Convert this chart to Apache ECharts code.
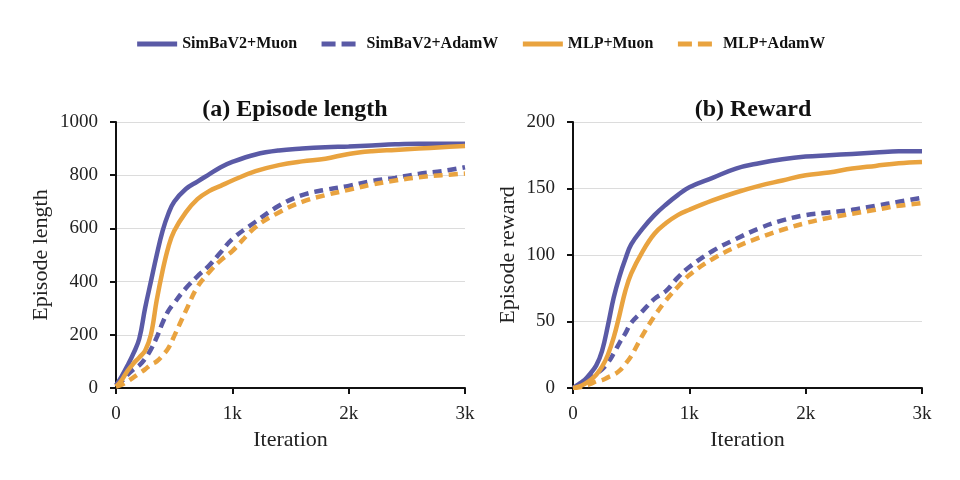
<!DOCTYPE html>
<html>
<head>
<meta charset="utf-8">
<script src="https://cdn.jsdelivr.net/npm/echarts@6/dist/echarts.min.js"></script>
<style>
  html, body { margin: 0; padding: 0; background: #fff; }
  #chart { width: 960px; height: 480px; }
</style>
</head>
<body>
<div id="chart"></div>
<script>
const iterations = [0, 50, 100, 150, 200, 250, 300, 350, 400, 450, 500, 600, 700, 800, 900, 1000,
  1200, 1400, 1600, 1800, 2000, 2200, 2400, 2600, 2800, 3000];

// (a) Episode length
const lenSimbaMuon = [10, 45, 85, 130, 185, 300, 400, 500, 590, 655, 700, 748, 776, 803, 830, 850,
  878, 893, 900, 905, 908, 912, 916, 918, 918, 918];
const lenSimbaAdamW = [10, 25, 50, 70, 85, 110, 145, 190, 245, 290, 320, 375, 420, 460, 510, 560,
  625, 685, 725, 745, 760, 778, 790, 805, 815, 830];
const lenMlpMuon = [5, 30, 65, 92, 115, 140, 200, 330, 440, 530, 590, 660, 710, 740, 760, 780,
  815, 838, 852, 862, 880, 890, 895, 900, 905, 910];
const lenMlpAdamW = [5, 12, 25, 40, 55, 70, 88, 100, 122, 150, 195, 290, 380, 435, 480, 515,
  605, 660, 700, 725, 745, 765, 780, 792, 800, 806];

// (b) Reward
const rewSimbaMuon = [0, 3, 6, 11, 17, 28, 47, 68, 84, 97, 108, 120, 130, 138, 145, 151,
  158, 165, 169, 172, 174, 175, 176, 177, 178, 178];
const rewSimbaAdamW = [0, 2, 5, 8, 11, 14, 19, 26, 34, 41, 49, 58, 67, 73, 83, 91,
  103, 112, 120, 126, 130, 132, 134, 137, 140, 143];
const rewMlpMuon = [0, 1, 3, 6, 10, 16, 25, 38, 55, 73, 86, 103, 116, 124, 130, 134,
  141, 147, 152, 156, 160, 162, 165, 167, 169, 170];
const rewMlpAdamW = [0, 0.5, 1.5, 3, 5, 6, 8, 10, 13, 18, 24, 40, 54, 66, 76, 85,
  97, 106, 113, 119, 124, 128, 131, 134, 137, 139];

const xTicks = [0, 1000, 2000, 3000];
const lenTicks = [0, 200, 400, 600, 800, 1000];
const rewTicks = [0, 50, 100, 150, 200];

const BLUE = "#5a5aa6";
const ORANGE = "#e9a33f";
const FONT = "Liberation Serif, Times New Roman, serif";
const DASH = [9, 6];

const zip = (ys) => iterations.map((x, i) => [x, ys[i]]);

function xAxis(gridIndex) {
  return {
    type: "value",
    gridIndex,
    min: xTicks[0],
    max: xTicks[xTicks.length - 1],
    interval: 1000,
    name: "Iteration",
    nameLocation: "middle",
    nameGap: 41,
    nameTextStyle: { fontFamily: FONT, fontSize: 22, color: "#222" },
    axisLine: { lineStyle: { color: "#111", width: 2 } },
    axisTick: { show: true, length: 6, lineStyle: { color: "#111", width: 2 } },
    axisLabel: {
      fontFamily: FONT, fontSize: 19, color: "#222", margin: 17,
      formatter: (v) => (v === 0 ? "0" : v / 1000 + "k"),
    },
    splitLine: { show: false },
  };
}

function yAxis(gridIndex, ticks, name) {
  return {
    type: "value",
    gridIndex,
    min: ticks[0],
    max: ticks[ticks.length - 1],
    interval: ticks[1] - ticks[0],
    name,
    nameLocation: "middle",
    nameGap: gridIndex === 0 ? 64 : 54,
    nameTextStyle: { fontFamily: FONT, fontSize: 22, color: "#222" },
    axisLine: { show: true, lineStyle: { color: "#111", width: 2 } },
    axisTick: { show: true, length: 6, lineStyle: { color: "#111", width: 2 } },
    axisLabel: { fontFamily: FONT, fontSize: 19, color: "#222", margin: 18, formatter: (v) => String(v) },
    splitLine: { show: true, lineStyle: { color: "#dcdcdc", width: 1 } },
  };
}

function line(name, gridIndex, ys, color, dashed) {
  return {
    name,
    type: "line",
    xAxisIndex: gridIndex,
    yAxisIndex: gridIndex,
    data: zip(ys),
    smooth: 0.4,
    symbol: "none",
    lineStyle: { color, width: 4.5, type: dashed ? DASH : "solid" },
    itemStyle: { color },
    z: dashed ? 3 : 4,
  };
}

const chart = echarts.init(document.getElementById("chart"));

chart.setOption({
  animation: false,
  backgroundColor: "#fff",
  title: [
    {
      text: "(a) Episode length", left: 290, top: 93, textAlign: "center",
      textStyle: { fontFamily: FONT, fontSize: 24, fontWeight: "bold", color: "#111" },
    },
    {
      text: "(b) Reward", left: 748, top: 93, textAlign: "center",
      textStyle: { fontFamily: FONT, fontSize: 24, fontWeight: "bold", color: "#111" },
    },
  ],
  legend: {
    top: 31,
    left: "center",
    itemWidth: 40,
    itemHeight: 10,
    itemGap: 22,
    itemStyle: { opacity: 0 },
    lineStyle: { width: 5 },
    textStyle: { fontFamily: FONT, fontSize: 16, fontWeight: "bold", color: "#111" },
    data: [
      { name: "SimBaV2+Muon" },
      { name: "SimBaV2+AdamW", lineStyle: { type: [14, 6, 14, 100] } },
      { name: "MLP+Muon" },
      { name: "MLP+AdamW", lineStyle: { type: [14, 6, 14, 100] } },
    ],
  },
  grid: [
    { left: 116, right: 495, top: 122, bottom: 92 },
    { left: 573, right: 38, top: 122, bottom: 92 },
  ],
  xAxis: [xAxis(0), xAxis(1)],
  yAxis: [yAxis(0, lenTicks, "Episode length"), yAxis(1, rewTicks, "Episode reward")],
  series: [
    line("SimBaV2+Muon", 0, lenSimbaMuon, BLUE, false),
    line("SimBaV2+AdamW", 0, lenSimbaAdamW, BLUE, true),
    line("MLP+Muon", 0, lenMlpMuon, ORANGE, false),
    line("MLP+AdamW", 0, lenMlpAdamW, ORANGE, true),
    line("SimBaV2+Muon", 1, rewSimbaMuon, BLUE, false),
    line("SimBaV2+AdamW", 1, rewSimbaAdamW, BLUE, true),
    line("MLP+Muon", 1, rewMlpMuon, ORANGE, false),
    line("MLP+AdamW", 1, rewMlpAdamW, ORANGE, true),
  ],
});

window.addEventListener("resize", () => chart.resize());
</script>
</body>
</html>
